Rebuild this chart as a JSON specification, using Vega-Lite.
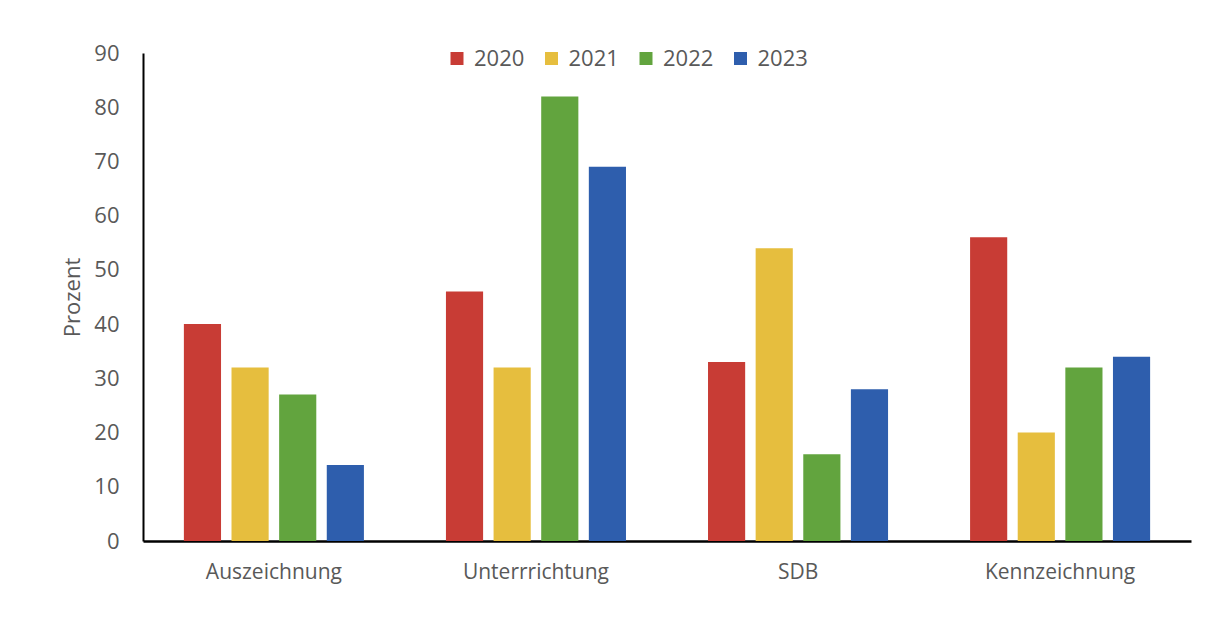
{
  "$schema": "https://vega.github.io/schema/vega-lite/v6.json",
  "autosize": "none",
  "padding": {"left": 143, "top": 53, "right": 32, "bottom": 100},
  "width": 1048,
  "height": 488,
  "background": "white",
  "config": {
    "view": {"stroke": null},
    "font": "Open Sans",
    "axis": {"labelFont": "Open Sans", "titleFont": "Open Sans"}
  },
  "data": {
    "values": [
      {"kategorie": "Auszeichnung", "jahr": "2020", "prozent": 40},
      {"kategorie": "Auszeichnung", "jahr": "2021", "prozent": 32},
      {"kategorie": "Auszeichnung", "jahr": "2022", "prozent": 27},
      {"kategorie": "Auszeichnung", "jahr": "2023", "prozent": 14},
      {"kategorie": "Unterrrichtung", "jahr": "2020", "prozent": 46},
      {"kategorie": "Unterrrichtung", "jahr": "2021", "prozent": 32},
      {"kategorie": "Unterrrichtung", "jahr": "2022", "prozent": 82},
      {"kategorie": "Unterrrichtung", "jahr": "2023", "prozent": 69},
      {"kategorie": "SDB", "jahr": "2020", "prozent": 33},
      {"kategorie": "SDB", "jahr": "2021", "prozent": 54},
      {"kategorie": "SDB", "jahr": "2022", "prozent": 16},
      {"kategorie": "SDB", "jahr": "2023", "prozent": 28},
      {"kategorie": "Kennzeichnung", "jahr": "2020", "prozent": 56},
      {"kategorie": "Kennzeichnung", "jahr": "2021", "prozent": 20},
      {"kategorie": "Kennzeichnung", "jahr": "2022", "prozent": 32},
      {"kategorie": "Kennzeichnung", "jahr": "2023", "prozent": 34}
    ]
  },
  "mark": {"type": "bar"},
  "encoding": {
    "x": {
      "field": "kategorie",
      "type": "nominal",
      "sort": ["Auszeichnung", "Unterrrichtung", "SDB", "Kennzeichnung"],
      "scale": {"paddingInner": 0.313, "paddingOuter": 0.156},
      "axis": {
        "title": null,
        "labelAngle": 0,
        "labelFontSize": 21,
        "labelColor": "#595959",
        "labelPadding": 20,
        "ticks": false,
        "domainColor": "#000000",
        "domainWidth": 2.5
      }
    },
    "xOffset": {
      "field": "jahr",
      "type": "nominal",
      "scale": {"paddingInner": 0.22, "paddingOuter": 0}
    },
    "y": {
      "field": "prozent",
      "type": "quantitative",
      "scale": {"domain": [0, 90], "nice": false},
      "axis": {
        "title": "Prozent",
        "titleFontSize": 22,
        "titleFontWeight": "normal",
        "titleColor": "#595959",
        "titlePadding": 9,
        "values": [0, 10, 20, 30, 40, 50, 60, 70, 80, 90],
        "labelFontSize": 22,
        "labelColor": "#595959",
        "labelPadding": 24,
        "ticks": false,
        "grid": false,
        "domainColor": "#000000",
        "domainWidth": 2
      }
    },
    "color": {
      "field": "jahr",
      "type": "nominal",
      "scale": {
        "domain": ["2020", "2021", "2022", "2023"],
        "range": ["#C83C35", "#E6BE3E", "#62A43E", "#2E5EAD"]
      },
      "legend": {
        "title": null,
        "orient": "none",
        "direction": "horizontal",
        "legendX": 303,
        "legendY": -5.5,
        "symbolType": "square",
        "symbolSize": 169,
        "symbolStrokeWidth": 0,
        "labelFontSize": 22,
        "labelColor": "#595959",
        "labelOffset": 6,
        "columnPadding": 15.5,
        "padding": 0
      }
    }
  }
}
